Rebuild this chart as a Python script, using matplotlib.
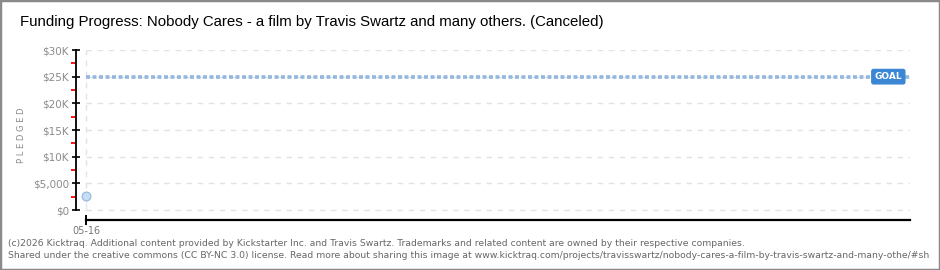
import matplotlib
matplotlib.use("Agg")
import matplotlib.pyplot as plt
from matplotlib.patches import Rectangle
from matplotlib.ticker import MultipleLocator, FuncFormatter

# data
days = [0]
day_labels = ["05-16"]
pledged = [2600]
goal = 25000
title = "Funding Progress: Nobody Cares - a film by Travis Swartz and many others. (Canceled)"
footer1 = ("(c)2026 Kicktraq. Additional content provided by Kickstarter Inc. and Travis Swartz. "
           "Trademarks and related content are owned by their respective companies.")
footer2 = ("Shared under the creative commons (CC BY-NC 3.0) license. Read more about sharing this image at "
           "www.kicktraq.com/projects/travisswartz/nobody-cares-a-film-by-travis-swartz-and-many-othe/#sh")

W, H = 940, 270
fig = plt.figure(figsize=(W / 100, H / 100), dpi=100)

# axes placed in pixel coords (from top-left)
left, right, top, bottom = 76, 910, 50, 220
ax = fig.add_axes([left / W, 1 - bottom / H, (right - left) / W, (bottom - top) / H])

px_per_5k = (210 - 50) / 6
ax.set_ylim(-5000 * (bottom - 210) / px_per_5k, 30000)
ax.set_xlim(-0.35, 29)

for s in ["top", "right"]:
    ax.spines[s].set_visible(False)
ax.spines["left"].set_bounds(0, 30000)
ax.spines["bottom"].set_bounds(0, 29)
ax.spines["left"].set_linewidth(1.3)
ax.spines["bottom"].set_linewidth(1.6)

def money(v, pos):
    if v == 0:
        return "$0"
    if v == 5000:
        return "$5,000"
    return "$%dK" % (v / 1000)

ax.yaxis.set_major_locator(MultipleLocator(5000))
ax.yaxis.set_minor_locator(MultipleLocator(2500))
ax.yaxis.set_major_formatter(FuncFormatter(money))
ax.tick_params(axis="y", which="major", direction="inout", length=6, width=1.2,
               colors="black", labelcolor="#8a8a8a", labelsize=7.5, pad=2)
ax.tick_params(axis="y", which="minor", direction="out", length=3.5, width=1.3, color="#ff0000")

ax.set_xticks(days)
ax.set_xticklabels(day_labels)
ax.tick_params(axis="x", direction="inout", length=7, width=1.4,
               labelcolor="#777777", labelsize=7, pad=1)

# grid
for v in range(5000, 30001, 5000):
    ax.plot([0, 29], [v, v], color="#e2e2e2", lw=1, ls=(0, (4, 4)), zorder=0)
ax.plot([0, 0], [0, 30000], color="#e2e2e2", lw=1, ls=(0, (4, 4)), zorder=0)
ax.plot([0, 29], [0, 0], color="#e2e2e2", lw=1, ls=(0, (4, 4)), zorder=0)

# goal line
ax.plot([0, 29], [goal, goal], color="#93b7e0", lw=2.6, ls=(0, (1.1, 0.7)), zorder=2)
ax.text(0.974, goal, "GOAL", transform=ax.get_yaxis_transform(), ha="center", va="center",
        fontsize=6.5, color="white", fontweight="bold",
        bbox=dict(boxstyle="round,pad=0.3,rounding_size=0.2", fc="#3b87d4", ec="#3b87d4"), zorder=4)

# pledged
ax.vlines(days, 0, pledged, color="#e3edf8", lw=1, zorder=1)
ax.scatter(days, pledged, s=40, fc="#c6ddf6", ec="#93b5dc", lw=0.8, zorder=3, clip_on=False)

ax.set_ylabel("P L E D G E D", color="#8a8a8a", fontsize=6)
ax.yaxis.set_label_coords(-0.060, 0.5)

fig.text(20 / W, 1 - 22 / H, title, fontsize=10.85,
         family=["Liberation Sans", "DejaVu Sans"], va="center", ha="left")
fig.text(8 / W, 1 - 243 / H, footer1, fontsize=6.65, color="#666666", va="center")
fig.text(8 / W, 1 - 255 / H, footer2, fontsize=6.65, color="#666666", va="center")

fig.patches.append(Rectangle((0, 0), 1, 1, transform=fig.transFigure, fill=False,
                             ec="#8a8a8a", lw=2.5))

fig.savefig("out.png", dpi=100)
